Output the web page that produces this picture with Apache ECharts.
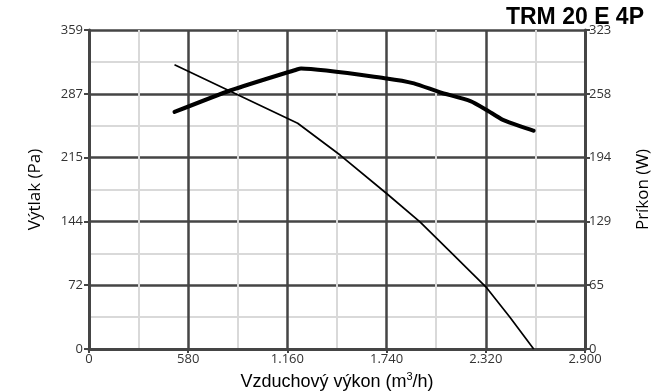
<!DOCTYPE html>
<html>
<head>
<meta charset="utf-8">
<script src="https://cdn.jsdelivr.net/npm/echarts@6/dist/echarts.min.js"></script>
<style>
  html, body { margin: 0; padding: 0; background: #fff; }
  #chart { width: 656px; height: 392px; }
</style>
</head>
<body>
<div id="chart"></div>
<script>
// pressure curve (left axis, Pa)
const pressureFlow = [500, 1220, 1470, 1740, 1935, 2125, 2320, 2460, 2600]
const pressureVals = [320, 254, 218, 175, 143, 107, 70, 36, 0]
// power curve (right axis, W)
const powerFlow = [500, 830, 1215, 1240, 1740, 1900, 2050, 2230, 2325, 2420, 2600]
const powerVals = [240, 262, 283, 284, 274, 269, 260, 251, 242, 232, 221]

const fmtThousands = v => String(Math.round(v)).replace(/\B(?=(\d{3})+(?!\d))/g, '.')

const darkGrid = '#454545'
const lightGrid = '#d9d9d9'
const labelFont = { fontFamily: 'Open Sans', fontSize: 13, color: '#333' }
const nameFont = { fontFamily: 'Open Sans', fontSize: 17, color: '#000' }

const chart = echarts.init(document.getElementById('chart'))

const option = {
  animation: false,
  title: {
    text: 'TRM 20 E 4P',
    right: 7,
    top: 1,
    textStyle: { fontFamily: 'Liberation Sans', fontWeight: 'bold', fontSize: 23, color: '#000' }
  },
  grid: { left: 89, right: 71, top: 30, bottom: 43, containLabel: false, outerBoundsMode: 'none' },
  xAxis: {
    type: 'value',
    min: 0,
    max: 2900,
    interval: 580,
    name: '{a|Vzduchový výkon (m}{s|3}{a|/h)}',
    nameLocation: 'middle',
    nameGap: 22,
    nameTextStyle: {
      rich: {
        a: { fontFamily: 'Liberation Sans', fontSize: 18, color: '#000', lineHeight: 20, verticalAlign: 'bottom' },
        s: { fontFamily: 'Liberation Sans', fontSize: 11, color: '#000', lineHeight: 20, verticalAlign: 'top', padding: [0, 0, 8, 0] }
      }
    },
    axisLine: { lineStyle: { color: darkGrid, width: 3 } },
    axisTick: { length: 4, lineStyle: { color: darkGrid, width: 2 } },
    axisLabel: Object.assign({ margin: 4, formatter: fmtThousands }, labelFont),
    splitLine: { lineStyle: { color: darkGrid, width: 2.5 } },
    minorTick: { show: false, splitNumber: 2 },
    minorSplitLine: { show: true, lineStyle: { color: lightGrid, width: 2 } }
  },
  yAxis: [
    {
      type: 'value',
      min: 0,
      max: 359,
      interval: 71.8,
      name: 'Výtlak (Pa)',
      nameLocation: 'middle',
      nameGap: 45,
      nameRotate: 90,
      nameTextStyle: nameFont,
      axisLine: { show: true, lineStyle: { color: darkGrid, width: 3 } },
      axisTick: { show: true, length: 5, lineStyle: { color: darkGrid, width: 2 } },
      axisLabel: Object.assign({ margin: 6, formatter: v => String(Math.round(v)) }, labelFont),
      splitLine: { lineStyle: { color: darkGrid, width: 2.5 } },
      minorTick: { show: false, splitNumber: 2 },
      minorSplitLine: { show: true, lineStyle: { color: lightGrid, width: 2 } }
    },
    {
      type: 'value',
      min: 0,
      max: 323,
      interval: 64.6,
      position: 'right',
      name: 'Príkon (W)',
      nameLocation: 'middle',
      nameGap: 50,
      nameRotate: 90,
      nameTextStyle: nameFont,
      axisLine: { show: true, lineStyle: { color: darkGrid, width: 3 } },
      axisTick: { show: true, length: 5, lineStyle: { color: darkGrid, width: 2 } },
      axisLabel: Object.assign({ margin: 4, formatter: v => String(Math.round(v)) }, labelFont),
      splitLine: { show: false }
    }
  ],
  series: [
    {
      name: 'Výtlak',
      type: 'line',
      yAxisIndex: 0,
      data: pressureFlow.map((f, i) => [f, pressureVals[i]]),
      symbol: 'none',
      lineStyle: { color: '#000', width: 1.7 },
      z: 3
    },
    {
      name: 'Príkon',
      type: 'line',
      yAxisIndex: 1,
      data: powerFlow.map((f, i) => [f, powerVals[i]]),
      symbol: 'none',
      smooth: 0.2,
      lineStyle: { color: '#000', width: 4, cap: 'round', join: 'round' },
      z: 4
    }
  ]
}

chart.setOption(option)
</script>
</body>
</html>
